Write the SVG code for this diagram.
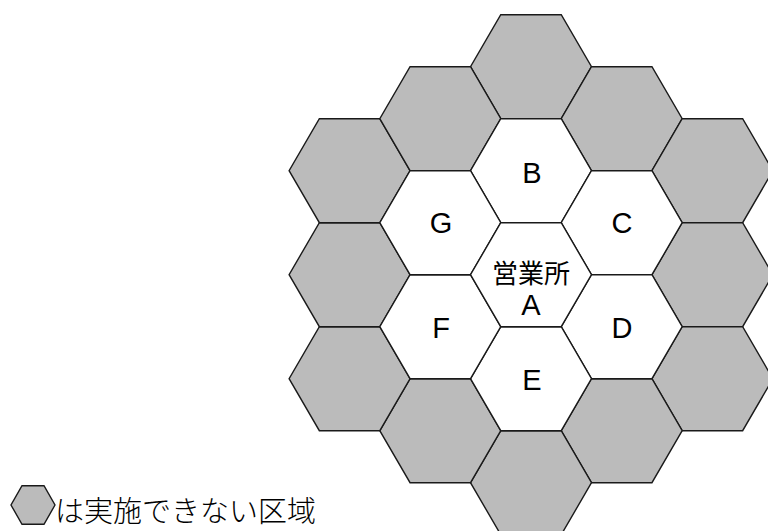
<svg xmlns="http://www.w3.org/2000/svg" xmlns:xlink="http://www.w3.org/1999/xlink" width="768" height="531" viewBox="0 0 768 531">
<style>
.gray{fill:#bbbbbb;stroke:#1a1a1a;stroke-width:1.4;stroke-linejoin:miter}
.white{fill:#ffffff;stroke:#1a1a1a;stroke-width:1.4;stroke-linejoin:miter}
.lbl{font-family:"Liberation Sans","Noto Sans CJK JP",sans-serif;font-size:29px;fill:#000;text-anchor:middle}
.jp{font-family:"Noto Sans CJK JP",sans-serif;font-size:26px;fill:#000;text-anchor:middle}
.legend{font-family:"Noto Sans CJK JP",sans-serif;font-size:29px;font-weight:300;fill:#000}
</style>
<defs>
<polygon id="hex" points="60.5,0 30.25,52 -30.25,52 -60.5,0 -30.25,-52 30.25,-52"/>
</defs>
<g id="outer-ring">
<g id="g1"><use xlink:href="#hex" href="#hex" class="gray" transform="translate(531,66.7)"/></g>
<g id="g2"><use xlink:href="#hex" href="#hex" class="gray" transform="translate(621.7,118.7)"/></g>
<g id="g3"><use xlink:href="#hex" href="#hex" class="gray" transform="translate(712.4,170.7)"/></g>
<g id="g4"><use xlink:href="#hex" href="#hex" class="gray" transform="translate(712.4,274.7)"/></g>
<g id="g5"><use xlink:href="#hex" href="#hex" class="gray" transform="translate(712.4,378.7)"/></g>
<g id="g6"><use xlink:href="#hex" href="#hex" class="gray" transform="translate(621.7,430.7)"/></g>
<g id="g7"><use xlink:href="#hex" href="#hex" class="gray" transform="translate(531,482.7)"/></g>
<g id="g8"><use xlink:href="#hex" href="#hex" class="gray" transform="translate(440.3,430.7)"/></g>
<g id="g9"><use xlink:href="#hex" href="#hex" class="gray" transform="translate(349.6,378.7)"/></g>
<g id="g10"><use xlink:href="#hex" href="#hex" class="gray" transform="translate(349.6,274.7)"/></g>
<g id="g11"><use xlink:href="#hex" href="#hex" class="gray" transform="translate(349.6,170.7)"/></g>
<g id="g12"><use xlink:href="#hex" href="#hex" class="gray" transform="translate(440.3,118.7)"/></g>
</g>
<g id="node-B"><use xlink:href="#hex" href="#hex" class="white" transform="translate(531,170.7)"/><text class="lbl" x="532" y="182.5">B</text></g>
<g id="node-C"><use xlink:href="#hex" href="#hex" class="white" transform="translate(621.7,222.7)"/><text class="lbl" x="622" y="233">C</text></g>
<g id="node-D"><use xlink:href="#hex" href="#hex" class="white" transform="translate(621.7,326.7)"/><text class="lbl" x="622" y="338">D</text></g>
<g id="node-E"><use xlink:href="#hex" href="#hex" class="white" transform="translate(531,378.7)"/><text class="lbl" x="532" y="390">E</text></g>
<g id="node-F"><use xlink:href="#hex" href="#hex" class="white" transform="translate(440.3,326.7)"/><text class="lbl" x="441" y="338">F</text></g>
<g id="node-G"><use xlink:href="#hex" href="#hex" class="white" transform="translate(440.3,222.7)"/><text class="lbl" x="441" y="233">G</text></g>
<g id="node-A"><use xlink:href="#hex" href="#hex" class="white" transform="translate(531,274.7)"/><text class="jp" x="531" y="283">営業所</text><text class="lbl" x="531" y="315">A</text></g>
<g id="connectors"/>
<g id="legend">
<polygon class="gray" points="55,505 44,524.3 22,524.3 11,505 22,485.7 44,485.7"/>
<text class="legend" x="55" y="522">は実施できない区域</text>
</g>
</svg>
